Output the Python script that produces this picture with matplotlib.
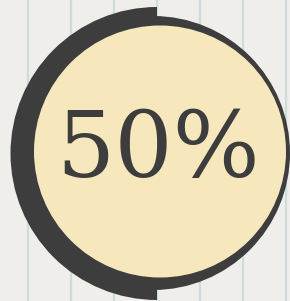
'''
Recreate the "50%" progress badge
'''
import matplotlib
matplotlib.use("Agg")
import matplotlib.pyplot as plt
from matplotlib.patches import Wedge, Circle
import numpy as np

# data
percent = 50
label = "50%"

# colours
paper = "#efeeeb"
rule = "#cdddda"
ink = "#3d3d3d"
yellow = "#f6e7bd"


def main():
    fig = plt.figure(figsize=(2.9, 3.01), dpi=100)
    fig.patch.set_facecolor(paper)
    ax = fig.add_axes([0, 0, 1, 1])
    ax.set_xlim(0, 290)
    ax.set_ylim(0, 301)
    ax.set_aspect("equal")
    ax.axis("off")

    # ruled paper lines
    for x in np.arange(28, 290, 43):
        ax.axvline(x, color=rule, lw=1.6, zorder=0)

    # thick progress arc, starting at the top and going anticlockwise
    sweep = 360 * percent / 100
    ax.add_patch(Wedge((157, 147.5), 146.5, 90, 90 + sweep, width=30,
                       facecolor=ink, edgecolor="none", zorder=1))
    # thin track ring
    ax.add_patch(Circle((153, 148), 137, facecolor=ink, edgecolor="none", zorder=2))
    # yellow disc
    ax.add_patch(Circle((160, 149.5), 126, facecolor=yellow, edgecolor="none", zorder=3))

    ax.text(158, 124, label, fontsize=66, family="DejaVu Serif",
            color=ink, ha="center", va="baseline", zorder=4)

    fig.savefig("out.png", dpi=100, facecolor=paper)


if __name__ == "__main__":
    main()
